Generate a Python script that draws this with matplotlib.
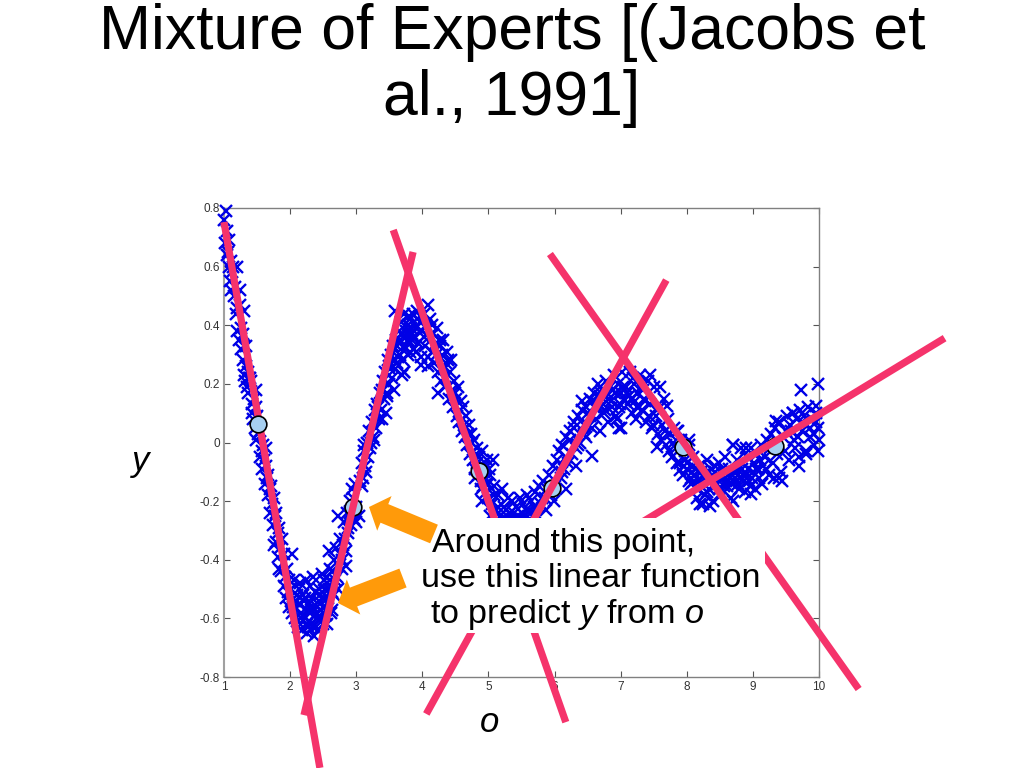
import numpy as np
import matplotlib
matplotlib.use('Agg')
import matplotlib.pyplot as plt
from matplotlib.patches import Rectangle

plt.rcParams['font.family'] = ['Liberation Sans', 'DejaVu Sans']
plt.rcParams['mathtext.fontset'] = 'custom'
plt.rcParams['mathtext.it'] = 'Liberation Sans:italic'
plt.rcParams['mathtext.rm'] = 'Liberation Sans'

# Data, one piece of the curve at a time
x_fall1 = [1.00,1.03,1.05,1.02,1.06,1.08,1.04,1.10,1.07,1.12,1.09,1.14,1.11,1.16,1.15,1.20,1.18,1.24,1.20,1.26,
           1.22,1.29,1.25,1.31,1.28,1.33,1.30,1.36,1.32,1.38,1.35,1.41,1.37,1.43,1.40,1.45,1.42,1.48,1.44,1.50,
           1.47,1.52,1.48,1.54,1.58,1.55,1.59,1.61,1.58,1.63,1.65,1.62,1.67,1.69,1.66,1.71,1.73,1.70,1.75,1.77,
           1.74,1.79,1.81,1.78,1.83,1.85,1.82,1.87,1.89,1.86,1.91,1.93,1.90,1.95,1.97,1.94,1.99,2.01,1.98]
y_fall1 = [.76,.79,.72,.68,.65,.69,.64,.62,.60,.58,.55,.60,.52,.53,.50,.46,.44,.47,.38,.39,
           .35,.37,.32,.33,.28,.26,.23,.24,.21,.22,.19,.21,.17,.13,.22,.15,.10,.12,.08,.09,
           .05,.03,.01,.04,-.03,-.05,-.01,-.06,-.09,-.08,-.12,-.14,-.11,-.16,-.18,-.15,-.21,-.24,-.19,-.25,
           -.28,-.24,-.31,-.34,-.29,-.36,-.39,-.33,-.41,-.44,-.38,-.46,-.49,-.43,-.51,-.53,-.47,-.54,-.56]

x_trough1 = [2.02,2.04,2.06,2.08,2.10,2.12,2.14,2.16,2.18,2.20,2.22,2.24,2.26,2.28,2.30,2.32,2.34,2.36,2.38,2.40,
             2.03,2.07,2.11,2.15,2.19,2.23,2.27,2.31,2.35,2.39,2.43,2.47,2.51,2.55,2.59,2.63,2.67,2.71,2.75,2.79,
             2.42,2.44,2.46,2.48,2.50,2.52,2.54,2.56,2.58,2.60,2.62,2.64,2.66,2.68,2.70,2.72,2.74,2.76,2.78,2.80,
             2.82,2.84,2.86,2.88,2.90,2.92,2.94,2.96,2.98,3.00,2.83,2.87,2.91,2.95,2.99,
             2.13,2.17,2.21,2.25,2.29,2.33,2.37,2.41,2.45,2.49,2.53,2.57,2.61,2.65,2.25,2.30,2.35,2.40,2.45,2.50]
y_trough1 = [-.50,-.56,-.47,-.60,-.52,-.63,-.50,-.58,-.64,-.52,-.60,-.47,-.65,-.55,-.49,-.62,-.56,-.66,-.51,-.60,
             -.58,-.54,-.61,-.48,-.59,-.53,-.63,-.57,-.46,-.63,-.54,-.60,-.47,-.57,-.50,-.44,-.52,-.46,-.38,-.43,
             -.64,-.50,-.57,-.45,-.62,-.53,-.59,-.48,-.55,-.43,-.58,-.51,-.40,-.47,-.36,-.50,-.42,-.33,-.40,-.35,
             -.27,-.37,-.24,-.31,-.20,-.28,-.16,-.26,-.14,-.22,-.33,-.29,-.24,-.19,-.27,
             -.55,-.60,-.54,-.57,-.61,-.53,-.59,-.56,-.52,-.58,-.50,-.53,-.47,-.44,-.62,-.58,-.63,-.58,-.60,-.56]

x_rise1 = [3.06,3.08,3.10,3.12,3.14,3.16,3.18,3.20,3.22,3.24,3.26,3.28,3.30,3.32,3.34,3.36,3.38,3.40,3.42,3.44,
           3.46,3.48,3.50,3.52,3.54,3.56,3.58,3.60,3.62,3.64,3.66,3.68,3.70,3.72,3.74,3.76,3.78,3.80,3.81,3.82,
           3.09,3.15,3.21,3.27,3.33,3.39,3.45,3.51,3.57,3.63,3.69,3.75,3.80,3.66,3.72,3.78,
           3.67,3.73,3.79,3.81,3.83,3.87,3.61,3.55,3.49]
y_rise1 = [-.13,-.07,-.12,-.03,-.08,.00,-.05,.04,.00,.07,.02,.11,.05,.13,.08,.17,.11,.21,.15,.24,
           .17,.28,.20,.30,.22,.33,.25,.35,.27,.38,.30,.41,.28,.44,.32,.36,.40,.34,.42,.38,
           -.15,-.10,-.02,.01,.12,.18,.10,.25,.18,.29,.23,.38,.43,.35,.24,.30,
           .37,.33,.35,.31,.39,.36,.33,.28,.26]

x_fall2 = [3.82,3.84,3.86,3.88,3.90,3.92,3.94,3.96,3.98,4.00,4.02,4.04,4.06,4.08,4.10,4.12,4.14,4.16,4.18,4.20,
           4.22,4.24,4.26,4.28,4.30,4.32,4.34,4.36,4.38,4.40,4.42,4.44,4.46,4.48,4.50,4.52,4.54,4.56,4.58,4.60,
           4.62,4.64,4.66,4.68,4.70,4.72,4.74,4.76,4.78,4.80,4.82,4.84,4.86,4.88,4.90,4.92,4.94,4.96,4.98,5.00,
           3.85,3.91,3.97,4.03,4.09,4.15,4.21,4.27,4.33,4.39,4.45,4.51,4.57,4.63,4.69,4.75,4.81,4.87,4.93,4.99,
           4.79,4.83,4.89,4.95,5.01,4.91,4.97]
y_fall2 = [.42,.35,.44,.32,.39,.45,.34,.41,.29,.38,.44,.33,.40,.26,.36,.42,.31,.37,.27,.34,
           .39,.24,.33,.21,.30,.35,.19,.27,.31,.15,.24,.28,.12,.21,.17,.09,.19,.07,.14,.04,
           .12,.02,.09,-.01,.06,-.04,.03,-.06,.01,-.09,-.02,-.11,-.05,-.13,-.03,-.15,-.08,-.17,-.06,-.19,
           .37,.31,.43,.36,.29,.40,.30,.35,.25,.28,.18,.15,.11,.06,.03,.00,-.04,-.08,-.10,-.14,
           -.12,-.07,-.16,-.12,-.09,-.20,-.14]

x_trough2 = [5.02,5.05,5.08,5.11,5.14,5.17,5.20,5.23,5.26,5.29,5.32,5.35,5.38,5.41,5.44,5.47,5.50,5.53,5.56,5.59,
             5.62,5.65,5.68,5.71,5.74,5.77,5.80,5.83,5.86,5.89,5.92,5.95,5.98,6.01,6.04,
             5.03,5.09,5.15,5.21,5.27,5.33,5.39,5.45,5.51,5.57,5.63,5.69,5.75,5.81,5.87,5.93,5.99]
y_trough2 = [-.11,-.21,-.15,-.23,-.18,-.25,-.16,-.22,-.26,-.19,-.24,-.20,-.26,-.22,-.25,-.19,-.24,-.21,-.26,-.18,
             -.23,-.20,-.25,-.17,-.22,-.15,-.21,-.13,-.19,-.16,-.11,-.18,-.08,-.15,-.06,
             -.25,-.18,-.22,-.26,-.23,-.26,-.24,-.26,-.26,-.23,-.26,-.22,-.25,-.19,-.23,-.15,-.20]

x_rise2 = [6.06,6.09,6.12,6.15,6.18,6.21,6.24,6.27,6.30,6.33,6.36,6.39,6.42,6.45,6.48,6.51,6.54,6.57,6.60,6.63,
           6.66,6.69,6.72,6.75,6.78,6.81,6.84,6.87,6.90,6.93,6.96,6.99,7.02,7.05,
           6.11,6.17,6.23,6.29,6.35,6.41,6.47,6.53,6.59,6.65,6.71,6.77,6.83,6.89,6.95,7.01,
           6.44,6.50,6.56,6.62,6.68,6.74,6.80,6.86,6.92,6.98,7.04,6.97]
y_rise2 = [-.03,-.12,-.01,-.09,.02,-.07,.04,-.04,.07,-.02,.09,.00,.14,.03,.12,.06,.15,.05,.17,.08,
           .20,.04,.18,.10,.21,.07,.19,.12,.23,.09,.20,.13,.24,.15,
           -.10,-.05,.01,.05,-.01,.11,.02,.09,.12,.13,.17,.11,.15,.18,.08,.17,
           .06,.10,.14,.12,.16,.13,.17,.14,.17,.12,.19,.05]

x_fall3 = [7.08,7.11,7.14,7.17,7.20,7.23,7.26,7.29,7.32,7.35,7.38,7.41,7.44,7.47,7.50,7.53,7.56,7.59,7.62,7.65,
           7.68,7.71,7.74,7.77,7.80,7.83,7.86,7.89,7.92,7.95,7.98,8.01,8.04,8.07,8.10,8.13,8.16,8.19,8.22,8.25,
           7.13,7.19,7.25,7.31,7.37,7.43,7.49,7.55,7.61,7.67,7.73,7.79,7.85,7.91,7.97,8.03,8.09,8.15,8.21,8.27,
           7.10,7.16,7.22,7.28,7.34,8.00,8.06,8.12,8.18,8.24]
y_fall3 = [.19,.13,.24,.10,.20,.08,.17,.23,.11,.15,.07,.21,.13,.05,.19,.09,.03,.12,.06,.15,
           -.01,.08,.03,-.05,.05,-.02,.04,-.07,.01,-.11,-.03,-.09,-.01,-.14,-.05,-.11,-.19,-.08,-.15,-.21,
           .16,.22,.12,.19,.14,.09,.06,.11,.01,.04,-.03,.00,-.07,-.02,-.06,-.13,-.08,-.16,-.10,-.18,
           .17,.15,.14,.12,.18,-.07,-.12,-.09,-.13,-.11]

x_trough3 = [8.28,8.31,8.34,8.37,8.40,8.43,8.46,8.49,8.52,8.55,8.58,8.61,8.64,8.67,8.70,8.73,8.76,8.79,8.82,8.85,
             8.88,8.91,8.94,8.97,9.00,9.03,9.06,9.09,9.12,9.15,
             8.30,8.36,8.42,8.48,8.54,8.60,8.66,8.72,8.78,8.84,8.90,8.96,9.02,9.08,9.14,
             8.33,8.39,8.45,8.51,8.57,8.63,8.69,8.75,8.81,8.87,8.93,8.99,9.05,9.11]
y_trough3 = [-.12,-.06,-.16,-.09,-.20,-.10,-.14,-.07,-.18,-.11,-.05,-.15,-.09,-.19,-.01,-.12,-.06,-.16,-.02,-.11,
             -.17,-.05,-.13,-.02,-.10,-.16,-.04,-.12,-.01,-.08,
             -.17,-.13,-.08,-.16,-.09,-.13,-.12,-.10,-.14,-.09,-.11,-.15,-.07,-.09,-.14,
             -.10,-.12,-.14,-.12,-.15,-.11,-.14,-.10,-.12,-.13,-.09,-.12,-.09,-.06]

x_rise3 = [9.18,9.21,9.24,9.27,9.30,9.33,9.36,9.39,9.42,9.45,9.48,9.51,9.54,9.57,9.60,9.63,9.66,9.69,9.72,9.75,
           9.78,9.81,9.84,9.87,9.90,9.93,9.96,9.99,9.73,9.98,
           9.20,9.26,9.32,9.38,9.44,9.50,9.56,9.62,9.68,9.74,9.80,9.86,9.92,9.98,10.0,9.95]
y_rise3 = [-.05,.01,-.11,.03,-.07,.05,-.04,.07,-.10,.02,-.03,.09,-.06,.04,.10,-.02,.08,-.08,.11,.04,
           .09,-.03,.12,.02,.08,-.01,.10,.05,.18,.20,
           -.09,-.02,-.12,.00,-.13,.04,.06,.01,.02,.07,-.04,.05,.03,-.03,.01,.07]

# points on the outer edge of the band
x_outer = [3.73,3.98,4.23,4.08,3.59,5.07,3.47,3.39,3.12,2.03,1.76,1.83,2.84,3.04,2.72,2.59,2.64,2.56,
           7.60,7.45,7.70,7.00,6.56,6.33,6.18,7.55,7.90,8.10,8.20,8.35,8.70,8.97,9.40,9.70,8.70,8.90,9.35,9.60,9.95,8.03,7.85,
           1.30,1.24,1.48,1.34,1.20,1.63]
y_outer = [.24,.265,.17,.47,.45,-.06,.16,.08,-.01,-.38,-.35,-.43,-.42,-.25,-.25,-.37,-.57,-.62,
           .19,.23,.125,.05,-.045,-.08,-.16,-.015,-.095,-.135,-.21,-.215,-.2,-.175,-.12,-.05,-.01,-.02,.075,.10,.125,.01,.04,
           .45,.52,.18,.33,.60,-.02]

# query points
query_x = [1.51, 2.95, 4.86, 5.96, 7.94, 9.33]
query_y = [0.063, -0.22, -0.097, -0.155, -0.015, -0.012]

# local linear functions: start and end of each
line_x = [[1.0, 2.45], [2.21, 3.86], [3.56, 6.17], [4.06, 7.69], [5.93, 10.6], [6.9, 11.9]]
line_y = [[0.752, -1.11], [-0.93, 0.65], [0.725, -0.954], [-0.926, 0.554], [0.643, -0.841], [-0.33, 0.356]]

x_ticks = [1, 2, 3, 4, 5, 6, 7, 8, 9, 10]
y_ticks = [-0.8, -0.6, -0.4, -0.2, 0, 0.2, 0.4, 0.6, 0.8]
y_tick_labels = ['-0.8', '-0.6', '-0.4', '-0.2', '0', '0.2', '0.4', '0.6', '0.8']

sample_x = np.concatenate([x_fall1, x_trough1, x_rise1, x_fall2, x_trough2, x_rise2, x_fall3, x_trough3, x_rise3, x_outer])
sample_y = np.concatenate([y_fall1, y_trough1, y_rise1, y_fall2, y_trough2, y_rise2, y_fall3, y_trough3, y_rise3, y_outer])

fig = plt.figure(figsize=(10.24, 7.68), dpi=100)
W, H = fig.get_size_inches() * fig.dpi
ax = fig.add_axes([224 / W, 1 - 677 / H, 595 / W, 469 / H])

ax.plot(sample_x, sample_y, 'x', color='#0000E6', ms=9, mew=1.7, zorder=3, clip_on=False)
ax.plot(query_x[1:], query_y[1:], 'o', ms=12, mfc='#A6CFF0', mec='black', mew=1.2, zorder=3.5, clip_on=False)
for lx, ly in zip(line_x, line_y):
    ax.plot(lx, ly, color='#F5336B', lw=5.2, solid_capstyle='butt', zorder=4, clip_on=False)
ax.plot(query_x[:1], query_y[:1], 'o', ms=12, mfc='#A6CFF0', mec='black', mew=1.2, zorder=5, clip_on=False)

ax.set_xlim(1, 10)
ax.set_ylim(-0.8, 0.8)
ax.set_xticks(x_ticks)
ax.set_yticks(y_ticks)
ax.set_yticklabels(y_tick_labels)
ax.tick_params(direction='in', top=True, right=True, length=4, width=0.8, color='#555555',
               labelsize=8.5, labelcolor='#333333', pad=3)
for s in ax.spines.values():
    s.set_color('#808080')
    s.set_linewidth(1)
ax.spines['left'].set_linewidth(1.5)
ax.spines['left'].set_color('#A0A0A0')

# white box behind the words, hides part of the chart
ax.add_patch(Rectangle((432 / W, 1 - 633 / H), 333 / W, 115 / H, transform=fig.transFigure,
                       facecolor='white', edgecolor='none', zorder=6, clip_on=False))

arrow = dict(facecolor='#FF9A0A', edgecolor='none', width=14.5, headwidth=27, headlength=12, shrink=0)
ax.annotate('', xy=(369 / W, 1 - 507 / H), xytext=(434 / W, 1 - 534 / H), xycoords='figure fraction',
            textcoords='figure fraction', arrowprops=arrow, zorder=7, annotation_clip=False)
ax.annotate('', xy=(338 / W, 1 - 603 / H), xytext=(403 / W, 1 - 578 / H), xycoords='figure fraction',
            textcoords='figure fraction', arrowprops=arrow, zorder=7, annotation_clip=False)

fig.text(512 / W, 1 - 49 / H, 'Mixture of Experts [(Jacobs et', ha='center', va='baseline', fontsize=45, zorder=8)
fig.text(512 / W, 1 - 115 / H, 'al., 1991]', ha='center', va='baseline', fontsize=45, zorder=8)
fig.text(432 / W, 1 - 552 / H, 'Around this point,', fontsize=24.4, zorder=8)
fig.text(421 / W, 1 - 587 / H, 'use this linear function', fontsize=24.6, zorder=8)
fig.text(430 / W, 1 - 623 / H, 'to predict $y$ from $o$', fontsize=24.6, zorder=8)
fig.text(141 / W, 1 - 461 / H, 'y', fontsize=25, style='italic', ha='center', va='center', zorder=8)
fig.text(490 / W, 1 - 723 / H, 'o', fontsize=25, style='italic', ha='center', va='center', zorder=8)

fig.savefig('out.png', dpi=100)
